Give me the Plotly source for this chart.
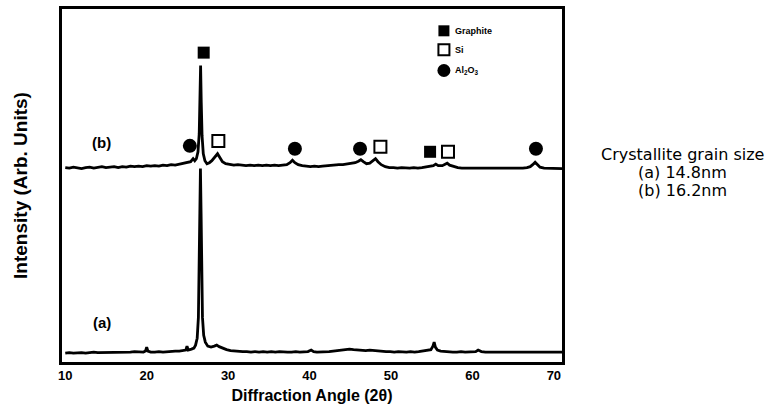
import plotly.graph_objects as go

# ---- data ----
angle_b = [10, 10.5, 11, 11.5, 12, 12.5, 13, 13.5, 14, 14.5, 15, 15.5, 16, 16.5, 17, 17.5, 18, 18.5, 19, 19.5,
           20, 20.5, 21, 21.5, 22, 22.5, 23, 23.5, 24, 24.5, 25, 25.4, 25.7, 25.9, 26.1, 26.3, 26.45, 26.55,
           26.62, 26.7, 26.8, 26.95, 27.15, 27.4, 27.7, 28.0, 28.4, 28.7, 29.0, 29.3, 29.7, 30.2, 30.7, 31.2,
           31.7, 32.2, 32.7, 33.2, 33.7, 34.2, 34.7, 35.2, 35.7, 36.2, 36.7, 37.2, 37.6, 37.9, 38.2, 38.6, 39.1,
           39.6, 40.1, 40.6, 41.1, 41.6, 42.1, 42.6, 43.1, 43.6, 44.1, 44.6, 45.1, 45.6, 46.0, 46.3, 46.6, 47.0,
           47.4, 47.8, 48.1, 48.4, 48.8, 49.3, 49.8, 50.3, 50.8, 51.3, 51.8, 52.3, 52.8, 53.3, 53.8, 54.3, 54.8,
           55.2, 55.5, 55.8, 56.3, 56.6, 56.9, 57.2, 57.7, 58.2, 58.7, 59.2, 59.7, 60.2, 60.7, 61.2, 61.7, 62.2,
           62.7, 63.2, 63.7, 64.2, 64.7, 65.2, 65.7, 66.2, 66.7, 67.1, 67.4, 67.7, 68.0, 68.3, 68.8, 69.3, 69.8,
           70.3, 71]
intensity_b = [196, 195.5, 196.5, 196, 195, 196, 196.5, 195.5, 196, 197, 196, 196.5, 197, 196, 197, 196.5, 197.5,
               197, 197.5, 197, 198, 197.5, 198, 197.5, 198.5, 198, 199, 198.5, 199.5, 200, 201, 202, 205, 203,
               205, 212, 230, 265, 299, 262, 228, 210, 203, 200, 201, 203, 207, 210, 206, 202, 200, 199, 198.5,
               199, 198.5, 198, 198.5, 198, 198.5, 198, 198.5, 198, 198.5, 198, 198.5, 199, 201, 203.5, 201, 199,
               198, 197.5, 197, 197.5, 197, 197.5, 198, 198, 198.5, 199, 199, 199.5, 200, 201, 202.5, 204, 202,
               200, 200.5, 203, 205, 202, 199, 197, 196, 196, 195.5, 196, 195.5, 195.5, 196, 195.5, 196, 196.5,
               197, 198, 199.5, 198, 198, 199, 200.5, 198.5, 197, 196, 195.5, 195.5, 195, 195.5, 195.5, 195.5,
               195, 195, 195.5, 195, 195, 195, 195.5, 195, 195.5, 195.5, 196, 197, 199, 201.5, 199, 196.5, 195.5,
               195.5, 195, 195.5, 195]

angle_a = [10, 10.5, 11, 11.5, 12, 12.5, 13, 13.5, 14, 14.5, 15, 15.5, 16, 16.5, 17, 17.5, 18, 18.5, 19, 19.6,
           19.85, 20.0, 20.15, 20.5, 21, 21.5, 22, 22.5, 23, 23.5, 24, 24.5, 24.8, 24.95, 25.1, 25.5, 25.8, 26.0,
           26.2, 26.35, 26.45, 26.52, 26.6, 26.68, 26.75, 26.85, 27.0, 27.2, 27.5, 27.9, 28.3, 28.6, 28.9, 29.3,
           29.8, 30.3, 30.8, 31.3, 31.8, 32.3, 32.8, 33.3, 33.8, 34.3, 34.8, 35.3, 35.8, 36.3, 36.8, 37.3, 37.8,
           38.3, 38.8, 39.3, 39.8, 40.2, 40.5, 40.9, 41.4, 41.9, 42.4, 42.9, 43.4, 43.9, 44.4, 44.9, 45.4, 45.9,
           46.4, 46.9, 47.4, 47.9, 48.4, 48.9, 49.4, 49.9, 50.4, 50.9, 51.4, 51.9, 52.4, 52.9, 53.4, 53.9, 54.5,
           54.9, 55.15, 55.3, 55.45, 55.7, 56.1, 56.6, 57.1, 57.6, 58.1, 58.6, 59.1, 59.6, 60.1, 60.4, 60.7, 61.1,
           61.6, 62.1, 62.6, 63.1, 63.6, 64.1, 64.6, 65.1, 65.6, 66.1, 66.6, 67.1, 67.6, 68.1, 68.6, 69.1, 69.6,
           70.1, 70.6, 71]
intensity_a = [9, 9.5, 9, 9.5, 9.5, 9, 9.5, 10, 9.5, 9.5, 10, 9.5, 10, 10, 9.5, 10, 10, 10.5, 10, 10,
               11, 15, 11, 10, 10, 10.5, 10, 10.5, 10.5, 11, 11, 11.5, 12, 16, 12, 13, 14, 17,
               24, 45, 90, 150, 195, 150, 90, 45, 27, 20, 16, 15, 16, 17, 15.5, 14,
               12.5, 11.5, 11, 11, 10.5, 10.5, 10, 10.5, 10, 10.5, 10, 10.5, 10, 10.5, 10, 10, 10,
               10.5, 10, 10, 10.5, 12, 10.5, 10, 10, 10.5, 10.5, 11, 11.5, 12, 12.5, 13, 12.5, 12,
               12, 11.5, 12, 11.5, 11, 10.5, 10.5, 10.5, 10, 10.5, 10, 10, 10.5, 10, 10.5, 11, 11.5,
               12.5, 16, 20, 15, 12, 11, 10.5, 10.5, 10, 10, 10.5, 10, 10, 10, 10.5, 12, 10.5, 10,
               10, 10, 10, 10, 10, 10, 10, 10, 10, 10, 10, 10, 10, 10, 10, 10, 10,
               10, 10, 10]

# phase markers placed over the peaks of pattern (b)
graphite_x = [27.0, 54.8]
graphite_y = [312, 212]
si_x = [28.8, 48.7, 57.0]
si_y = [223, 217, 212]
al2o3_x = [25.3, 38.2, 46.2, 67.8]
al2o3_y = [218, 215, 215, 215]

legend_names = ["<b>Graphite</b>", "<b>Si</b>", "<b>Al<sub>2</sub>O<sub>3</sub></b>"]
legend_x = 56.5
legend_y = [334, 315, 294]

note_lines = ["Crystallite grain size", "(a) 14.8nm", "(b) 16.2nm"]

tick_vals = [10, 20, 30, 40, 50, 60, 70]

FONT = "Liberation Sans, Arial, sans-serif"
NOTE_FONT = "DejaVu Sans, sans-serif"

fig = go.Figure()
fig.add_trace(go.Scatter(x=angle_a, y=intensity_a, mode="lines",
                         line=dict(color="black", width=2.8), hoverinfo="skip"))
fig.add_trace(go.Scatter(x=angle_b, y=intensity_b, mode="lines",
                         line=dict(color="black", width=2.8), hoverinfo="skip"))

fig.add_trace(go.Scatter(x=graphite_x, y=graphite_y, mode="markers",
                         marker=dict(symbol="square", size=12, color="black")))
fig.add_trace(go.Scatter(x=si_x, y=si_y, mode="markers",
                         marker=dict(symbol="square-open", size=12, color="black",
                                     line=dict(width=2, color="black"))))
fig.add_trace(go.Scatter(x=al2o3_x, y=al2o3_y, mode="markers",
                         marker=dict(symbol="circle", size=14, color="black")))

# legend symbols
fig.add_trace(go.Scatter(x=[legend_x], y=[legend_y[0]], mode="markers",
                         marker=dict(symbol="square", size=11, color="black")))
fig.add_trace(go.Scatter(x=[legend_x], y=[legend_y[1]], mode="markers",
                         marker=dict(symbol="square-open", size=11, color="black",
                                     line=dict(width=2, color="black"))))
fig.add_trace(go.Scatter(x=[legend_x], y=[legend_y[2]], mode="markers",
                         marker=dict(symbol="circle", size=13, color="black")))

for name, yy in zip(legend_names, legend_y):
    fig.add_annotation(x=legend_x + 1.1, y=yy, text=name, showarrow=False,
                       xanchor="left", yanchor="middle",
                       font=dict(family=FONT, size=9, color="black"))

fig.add_annotation(x=14.5, y=221, text="<b>(b)</b>", showarrow=False,
                   font=dict(family=FONT, size=15, color="black"))
fig.add_annotation(x=14.5, y=40, text="<b>(a)</b>", showarrow=False,
                   font=dict(family=FONT, size=15, color="black"))

# right-hand note (paper coordinates, one line per annotation)
note_y = [0.587, 0.537, 0.486]
for line, yy in zip(note_lines, note_y):
    fig.add_annotation(xref="paper", yref="paper", x=1.24, y=yy, xanchor="center", yanchor="middle",
                       text=line, showarrow=False,
                       font=dict(family=NOTE_FONT, size=16, color="black"))

fig.update_layout(
    width=782, height=418,
    margin=dict(l=62, r=220, t=6, b=56),
    paper_bgcolor="white", plot_bgcolor="white",
    showlegend=False,
    xaxis=dict(range=[9.6, 71], tickvals=tick_vals, ticks="", showgrid=False, zeroline=False,
               showline=True, linecolor="black", linewidth=2.5, mirror=True,
               tickfont=dict(family=FONT, size=13, color="black", weight="bold"),
               title=dict(text="<b>Diffraction Angle (2θ)</b>", standoff=8,
                          font=dict(family=FONT, size=16, color="black"))),
    yaxis=dict(range=[0, 356], showticklabels=False, ticks="", showgrid=False, zeroline=False,
               showline=True, linecolor="black", linewidth=2.5, mirror=True,
               title=dict(text="<b>Intensity (Arb. Units)</b>", standoff=27,
                          font=dict(family=FONT, size=19, color="black"))),
)

fig.write_html("out.html")
